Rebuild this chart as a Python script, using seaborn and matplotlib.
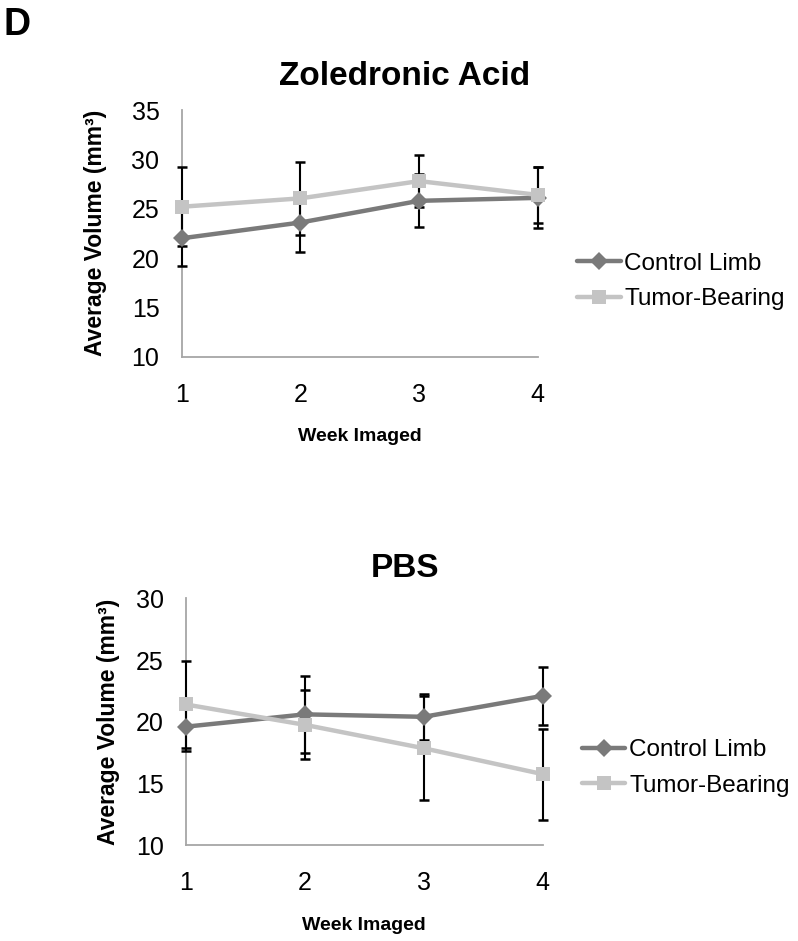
import pandas as pd
import matplotlib.pyplot as plt
import seaborn as sns

# Datos
weeks = [1, 2, 3, 4]
groups = ["Control Limb", "Tumor-Bearing"]

zol_control = [22.0, 23.6, 25.8, 26.1]
zol_control_err = [2.8, 3.0, 2.7, 3.1]
zol_tumor = [25.2, 26.05, 27.8, 26.4]
zol_tumor_err = [4.0, 3.7, 2.6, 2.8]

pbs_control = [19.6, 20.6, 20.4, 22.1]
pbs_control_err = [2.0, 3.1, 1.85, 2.35]
pbs_tumor = [21.4, 19.75, 17.85, 15.75]
pbs_tumor_err = [3.5, 2.8, 4.2, 3.7]

colors = {"Control Limb": "#7a7a7a", "Tumor-Bearing": "#c4c4c4"}
markers = {"Control Limb": "D", "Tumor-Bearing": "s"}


def make_df(control, control_err, tumor, tumor_err):
    rows = []
    for g, vals, errs in [(groups[0], control, control_err), (groups[1], tumor, tumor_err)]:
        for w, v, e in zip(weeks, vals, errs):
            rows.append({"week": w, "volume": v, "err": e, "limb": g})
    return pd.DataFrame(rows)


def set_marker_sizes(lines):
    for line in lines:
        if line.get_marker() == "D":
            line.set_markersize(9.5)
        elif line.get_marker() == "s":
            line.set_markersize(10.5)


def draw_panel(fig, ax, df, ylim, yticks, ylabel_x, legend_xy):
    for g in groups:
        sub = df[df["limb"] == g]
        ax.errorbar(sub["week"], sub["volume"], yerr=sub["err"], fmt="none",
                    ecolor="black", elinewidth=1.5, capsize=3.8, capthick=1.8,
                    zorder=2.6, clip_on=False)
    sns.lineplot(data=df, x="week", y="volume", hue="limb", style="limb",
                 palette=colors, markers=markers, dashes=False, linewidth=3.2,
                 markeredgewidth=0, ax=ax, zorder=3, clip_on=False)
    set_marker_sizes(ax.get_lines())
    ax.set_xlim(1, 4)
    ax.set_ylim(*ylim)
    ax.set_xticks(weeks)
    ax.set_yticks(yticks)
    ax.tick_params(axis="y", length=0, labelsize=18, pad=16)
    ax.tick_params(axis="x", length=0, labelsize=18, pad=19)
    ax.set_xlabel("Week Imaged", fontsize=14, fontweight="bold")
    ax.xaxis.set_label_coords(0.5, -0.29)
    ax.set_ylabel("Average Volume (mm³)", fontsize=16.5, fontweight="bold")
    ax.yaxis.set_label_coords(ylabel_x, 0.5)
    for side in ["top", "right"]:
        ax.spines[side].set_visible(False)
    for side in ["left", "bottom"]:
        ax.spines[side].set_color("#a6a6a6")
        ax.spines[side].set_linewidth(1.3)
    ax.grid(False)
    handles, labels = ax.get_legend_handles_labels()
    set_marker_sizes(handles)
    ax.legend(handles, labels, loc="center left", bbox_to_anchor=legend_xy,
              bbox_transform=fig.transFigure, frameon=False, fontsize=17.5,
              handlelength=1.8, handletextpad=0.15, labelspacing=0.55,
              borderpad=0, borderaxespad=0)


def main():
    sns.set_theme(style="white")
    plt.rcParams["font.family"] = ["Liberation Sans", "DejaVu Sans"]
    plt.rcParams["text.color"] = "black"
    plt.rcParams["axes.labelcolor"] = "black"
    plt.rcParams["xtick.color"] = "black"
    plt.rcParams["ytick.color"] = "black"

    fig = plt.figure(figsize=(7.98, 9.41), dpi=100)
    ax1 = fig.add_axes([0.2277, 0.621, 0.4463, 0.262])
    ax2 = fig.add_axes([0.233, 0.102, 0.447, 0.262])

    df_zol = make_df(zol_control, zol_control_err, zol_tumor, zol_tumor_err)
    df_pbs = make_df(pbs_control, pbs_control_err, pbs_tumor, pbs_tumor_err)

    draw_panel(fig, ax1, df_zol, (10, 35), [10, 15, 20, 25, 30, 35], -0.21, (0.723, 0.701))
    draw_panel(fig, ax2, df_pbs, (10, 30), [10, 15, 20, 25, 30], -0.185, (0.729, 0.184))

    fig.text(0.5075, 0.9097, "Zoledronic Acid", fontsize=24, fontweight="bold",
             ha="center", va="baseline")
    fig.text(0.5075, 0.3868, "PBS", fontsize=24, fontweight="bold",
             ha="center", va="baseline")
    fig.text(0.004, 0.993, "D", fontsize=27, fontweight="bold", va="top", ha="left")

    fig.savefig("out.png", dpi=100)
    plt.close(fig)


if __name__ == "__main__":
    main()
